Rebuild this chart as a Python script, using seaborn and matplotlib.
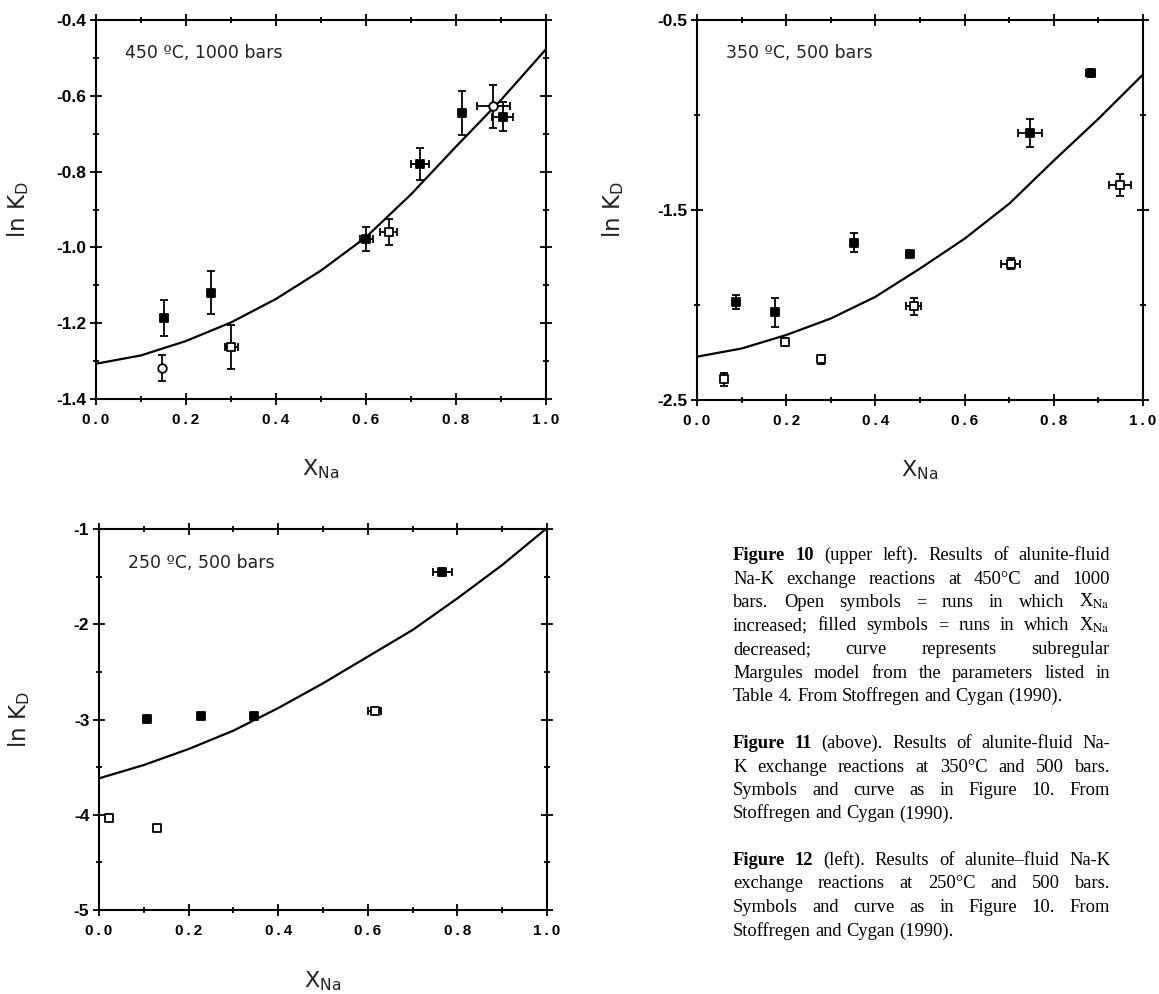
import matplotlib
matplotlib.use("Agg")
import matplotlib.pyplot as plt
import pandas as pd
import seaborn as sns
from matplotlib.ticker import MultipleLocator


CURVE_X = [0.0, 0.1, 0.2, 0.3, 0.4, 0.5, 0.6, 0.7, 0.8, 0.9, 1.0]

# Figure 10: 450 C, 1000 bars
F10_X = [0.150, 0.147, 0.255, 0.301, 0.601, 0.650, 0.720, 0.813, 0.883, 0.904]
F10_Y = [-1.186, -1.318, -1.119, -1.263, -0.978, -0.960, -0.780, -0.646, -0.628, -0.655]
F10_XERR = [0, 0, 0, 0.014, 0.015, 0.018, 0.020, 0, 0.036, 0.023]
F10_YERR = [0.047, 0.035, 0.058, 0.058, 0.032, 0.034, 0.042, 0.058, 0.056, 0.038]
F10_SYM = ["filled", "circle", "filled", "open", "filled", "open", "filled", "filled", "circle", "filled"]
F10_CURVE = [-1.307, -1.285, -1.247, -1.198, -1.136, -1.061, -0.973, -0.860, -0.734, -0.611, -0.477]

# Figure 11: 350 C, 500 bars
F11_X = [0.060, 0.087, 0.176, 0.197, 0.279, 0.351, 0.477, 0.486, 0.703, 0.747, 0.883, 0.948]
F11_Y = [-2.391, -1.983, -2.039, -2.194, -2.286, -1.673, -1.733, -2.006, -1.782, -1.094, -0.778, -1.370]
F11_XERR = [0, 0, 0, 0, 0, 0, 0.008, 0.017, 0.022, 0.027, 0.010, 0.025]
F11_YERR = [0.035, 0.038, 0.078, 0.020, 0.025, 0.050, 0, 0.044, 0.030, 0.072, 0.020, 0.058]
F11_SYM = ["open", "filled", "filled", "open", "open", "filled", "filled", "open", "open", "filled", "filled", "open"]
F11_CURVE = [-2.272, -2.229, -2.158, -2.071, -1.957, -1.808, -1.651, -1.467, -1.240, -1.020, -0.787]

# Figure 12: 250 C, 500 bars
F12_X = [0.022, 0.107, 0.130, 0.227, 0.345, 0.615, 0.766]
F12_Y = [-4.038, -2.995, -4.136, -2.963, -2.963, -2.911, -1.448]
F12_XERR = [0, 0, 0, 0, 0, 0.015, 0.021]
F12_YERR = [0, 0, 0, 0, 0, 0, 0]
F12_SYM = ["open", "filled", "open", "filled", "filled", "open", "filled"]
F12_CURVE = [-3.618, -3.478, -3.310, -3.117, -2.880, -2.620, -2.340, -2.060, -1.728, -1.378, -0.990]

XTICKS = [0.0, 0.2, 0.4, 0.6, 0.8, 1.0]
XTICK_LABELS = ["0.0", "0.2", "0.4", "0.6", "0.8", "1.0"]

CAP10 = [
    "Figure 10 (upper left). Results of alunite-fluid",
    "Na-K exchange reactions at 450°C and 1000",
    "bars. Open symbols = runs in which X$_{\\mathrm{Na}}$",
    "increased; filled symbols = runs in which X$_{\\mathrm{Na}}$",
    "decreased; curve represents subregular",
    "Margules model from the parameters listed in",
    "Table 4. From Stoffregen and Cygan (1990).",
]
CAP11 = [
    "Figure 11 (above). Results of alunite-fluid Na-",
    "K exchange reactions at 350°C and 500 bars.",
    "Symbols and curve as in Figure 10. From",
    "Stoffregen and Cygan (1990).",
]
CAP12 = [
    "Figure 12 (left). Results of alunite–fluid Na-K",
    "exchange reactions at 250°C and 500 bars.",
    "Symbols and curve as in Figure 10. From",
    "Stoffregen and Cygan (1990).",
]

W, H = 1159, 994
TICK_FONT = ["Liberation Sans", "DejaVu Sans"]
LABEL_FONT = ["DejaVu Sans"]
CAP_FONT = ["Liberation Serif", "DejaVu Serif"]
CAP_FS = 13.3


def px_axes(fig, x0, y0, x1, y1):
    return fig.add_axes([x0 / W, 1 - y1 / H, (x1 - x0) / W, (y1 - y0) / H])


def draw_panel(ax, x, y, xerr, yerr, sym, curve, ylim, yticks, ylabels, yminor, note, ylab_x):
    pts = pd.DataFrame({"x": x, "y": y, "xerr": xerr, "yerr": yerr, "sym": sym})
    sns.lineplot(x=CURVE_X, y=curve, ax=ax, color="black", linewidth=1.6)
    ax.errorbar(pts["x"], pts["y"], xerr=pts["xerr"], yerr=pts["yerr"], fmt="none",
                ecolor="black", elinewidth=1.3, capsize=3, capthick=1.3, zorder=2)
    styles = {"filled": ("s", "black"), "open": ("s", "white"), "circle": ("o", "white")}
    for key, (marker, face) in styles.items():
        sub = pts[pts["sym"] == key]
        if len(sub):
            sns.scatterplot(data=sub, x="x", y="y", marker=marker, color=face, edgecolor="black",
                            linewidth=1.3, s=38, ax=ax, zorder=3, legend=False)

    ax.set_xlim(0, 1)
    ax.set_ylim(*ylim)
    ax.set_xticks(XTICKS, labels=["\u2009".join(t) for t in XTICK_LABELS])
    ax.xaxis.set_minor_locator(MultipleLocator(0.1))
    ax.set_yticks(yticks, labels=ylabels)
    ax.yaxis.set_minor_locator(MultipleLocator(yminor))
    for lab in ax.get_xticklabels():
        lab.set_family(TICK_FONT)
        lab.set_fontweight("bold")
        lab.set_fontsize(11)
    for lab in ax.get_yticklabels():
        lab.set_family(TICK_FONT)
        lab.set_fontweight("bold")
        lab.set_fontsize(12.5)
    ax.tick_params(which="both", direction="inout", top=True, right=True, width=1.3, color="black")
    ax.tick_params(which="major", length=8)
    ax.tick_params(which="minor", length=5)
    ax.tick_params(axis="x", which="major", pad=6)
    ax.tick_params(axis="y", which="major", pad=3)
    for sp in ax.spines.values():
        sp.set_linewidth(1.5)
        sp.set_color("black")

    ax.set_xlabel("X$_\\mathregular{Na}$", fontsize=16, family=LABEL_FONT, va="top", color="#222222")
    ax.set_ylabel("ln K$_\\mathregular{D}$", fontsize=16.5, family=LABEL_FONT, color="#222222")
    ax.xaxis.set_label_coords(0.5, -0.155)
    ax.yaxis.set_label_coords(ylab_x, 0.5)
    ax.text(0.065, 0.912, note, transform=ax.transAxes, fontsize=12.5, family="DejaVu Sans",
            color="#222222", va="center")


def caption(fig, rend, lines, x0, x1, y_first, step):
    space = CAP_FS * 0.25 * fig.dpi / 72
    for i, line in enumerate(lines):
        words = line.split(" ")
        y = 1 - (y_first + i * step) / H
        texts = []
        for j, w in enumerate(words):
            bold = i == 0 and j < 2
            texts.append(fig.text(0, y, w, fontsize=CAP_FS, family=CAP_FONT, math_fontfamily="stix",
                                  weight="bold" if bold else "normal", va="baseline", ha="left"))
        widths = [t.get_window_extent(rend).width for t in texts]
        last = i == len(lines) - 1
        gap = space if last else (x1 - x0 - sum(widths)) / (len(words) - 1)
        x = x0
        for t, w in zip(texts, widths):
            t.set_x(x / W)
            x += w + gap


def main():
    sns.set_theme(style="ticks", rc={"axes.edgecolor": "black", "xtick.color": "black",
                                     "ytick.color": "black", "text.color": "black"})
    plt.rcParams["font.family"] = ["DejaVu Sans"]

    fig = plt.figure(figsize=(W / 100, H / 100), dpi=100)
    fig.patch.set_facecolor("white")

    ax1 = px_axes(fig, 96, 20, 546, 399)
    draw_panel(ax1, F10_X, F10_Y, F10_XERR, F10_YERR, F10_SYM, F10_CURVE, (-1.4, -0.4),
               [-1.4, -1.2, -1.0, -0.8, -0.6, -0.4], ["-1.4", "-1.2", "-1.0", "-0.8", "-0.6", "-0.4"],
               0.1, "450 ºC, 1000 bars", -0.145)

    ax2 = px_axes(fig, 697, 20, 1143, 400)
    draw_panel(ax2, F11_X, F11_Y, F11_XERR, F11_YERR, F11_SYM, F11_CURVE, (-2.5, -0.5),
               [-2.5, -1.5, -0.5], ["-2.5", "-1.5", "-0.5"],
               0.5, "350 ºC, 500 bars", -0.16)

    ax3 = px_axes(fig, 99, 529, 547, 910)
    draw_panel(ax3, F12_X, F12_Y, F12_XERR, F12_YERR, F12_SYM, F12_CURVE, (-5, -1),
               [-5, -4, -3, -2, -1], ["-5", "-4", "-3", "-2", "-1"],
               0.5, "250 ºC, 500 bars", -0.15)

    rend = fig.canvas.get_renderer()
    caption(fig, rend, CAP10, 733, 1110, 560, 23.5)
    caption(fig, rend, CAP11, 733, 1110, 748, 23.5)
    caption(fig, rend, CAP12, 733, 1110, 865, 23.5)

    fig.savefig("out.png", dpi=100, facecolor="white")
    plt.close(fig)


if __name__ == "__main__":
    main()
